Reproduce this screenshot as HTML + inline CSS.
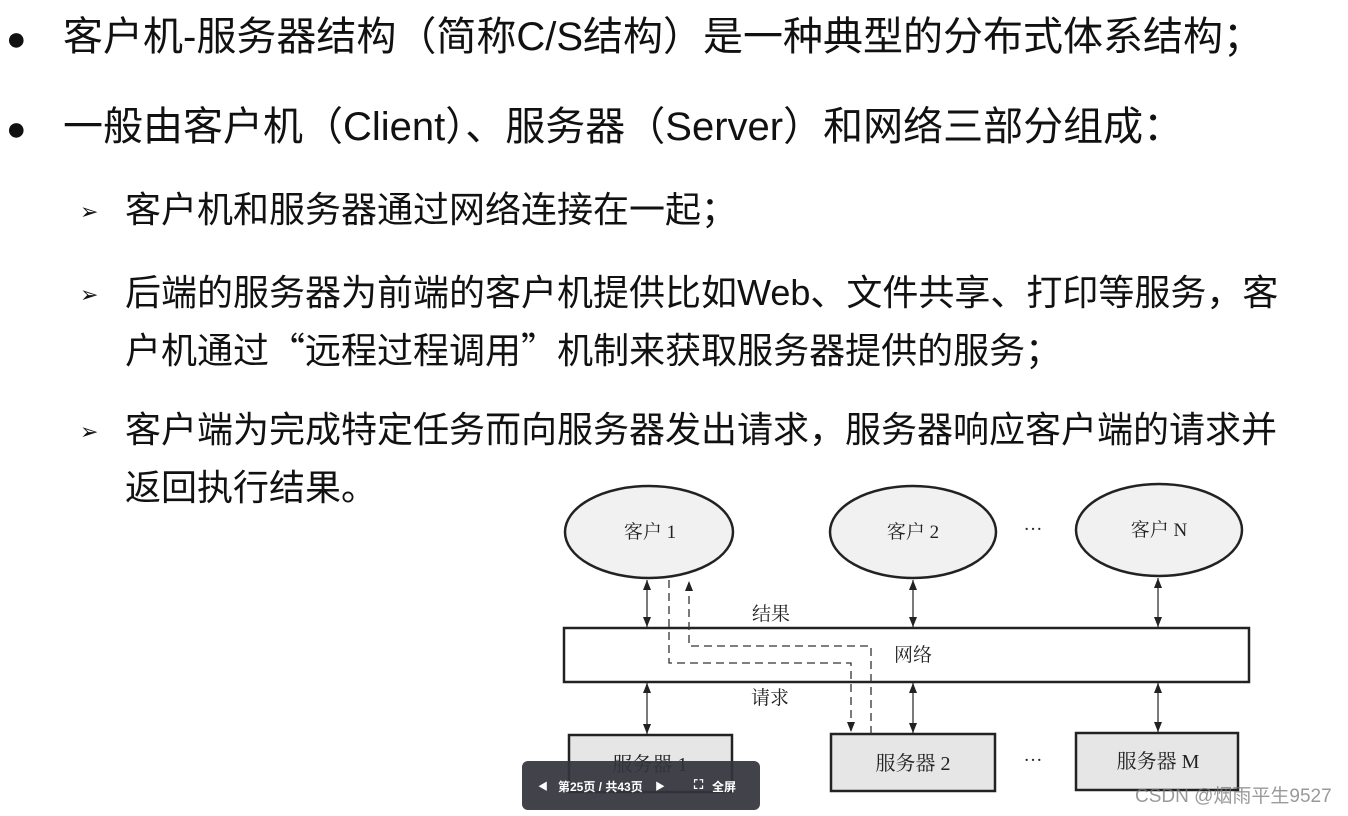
<!DOCTYPE html>
<html><head><meta charset="utf-8"><style>
body{margin:0;width:1348px;height:816px;background:#fff;overflow:hidden;position:relative;font-family:"Liberation Sans","Noto Sans CJK SC",sans-serif;color:#111}
.t{position:absolute;white-space:nowrap;line-height:1}
.m{font-size:40px}
.s{font-size:36px}
.b{position:absolute;font-size:34px;line-height:1}
.a{position:absolute;font-size:22px;line-height:1}
.c{font-family:"Noto Sans CJK SC",sans-serif}
</style></head><body>
<div class="b" style="left:6px;top:22px">●</div>
<div class="t m" style="left:63px;top:17px">客户机-服务器结构（简称C/S结构）是一种典型的分布式体系结构；</div>
<div class="b" style="left:6px;top:112px">●</div>
<div class="t m" style="left:63px;top:107px">一般由客户机（Client）、服务器（Server）和网络三部分组成：</div>
<div class="a" style="left:80px;top:201px">➢</div>
<div class="t s" style="left:125px;top:192px">客户机和服务器通过网络连接在一起；</div>
<div class="a" style="left:80px;top:284px">➢</div>
<div class="t s" style="left:125px;top:275px">后端的服务器为前端的客户机提供比如Web、文件共享、打印等服务，客</div>
<div class="t s" style="left:125px;top:330px">户机通过<span class="c">“</span>远程过程调用<span class="c">”</span>机制来获取服务器提供的服务；</div>
<div class="a" style="left:80px;top:421px">➢</div>
<div class="t s" style="left:125px;top:412px">客户端为完成特定任务而向服务器发出请求，服务器响应客户端的请求并</div>
<div class="t s" style="left:125px;top:470px">返回执行结果。</div>

<svg width="1348" height="816" style="position:absolute;left:0;top:0" font-family="Liberation Serif, Noto Serif CJK SC, serif">
<defs>
<marker id="ar" markerWidth="10" markerHeight="8" refX="10" refY="4" orient="auto-start-reverse" markerUnits="userSpaceOnUse" viewBox="0 0 10 8"><path d="M0,0 L10,4 L0,8 Z" fill="#222"/></marker>
</defs>
<g stroke="#222" stroke-width="2.5" fill="#f1f1f1">
<ellipse cx="649" cy="532" rx="84" ry="46"/>
<ellipse cx="913" cy="532" rx="83" ry="46"/>
<ellipse cx="1159" cy="530" rx="83" ry="46"/>
<rect x="564" y="628" width="685" height="54" fill="#fff"/>
<rect x="569" y="735" width="163" height="57" fill="#e6e6e6"/>
<rect x="831" y="734" width="164" height="57" fill="#e6e6e6"/>
<rect x="1076" y="733" width="162" height="57" fill="#e6e6e6"/>
</g>
<g stroke="#333" stroke-width="1.3" fill="none">
<line x1="647" y1="580" x2="647" y2="627" marker-start="url(#ar)" marker-end="url(#ar)"/>
<line x1="647" y1="683" x2="647" y2="734" marker-start="url(#ar)" marker-end="url(#ar)"/>
<line x1="913" y1="580" x2="913" y2="627" marker-start="url(#ar)" marker-end="url(#ar)"/>
<line x1="913" y1="683" x2="913" y2="733" marker-start="url(#ar)" marker-end="url(#ar)"/>
<line x1="1158" y1="578" x2="1158" y2="627" marker-start="url(#ar)" marker-end="url(#ar)"/>
<line x1="1158" y1="683" x2="1158" y2="732" marker-start="url(#ar)" marker-end="url(#ar)"/>
<polyline points="669,580 669,663 851,663 851,732" stroke-dasharray="8,5" marker-end="url(#ar)"/>
<polyline points="871,734 871,646 689,646 689,581" stroke-dasharray="8,5" marker-end="url(#ar)"/>
</g>
<g font-size="19" fill="#222" text-anchor="middle">
<text x="650" y="538">客户 1</text>
<text x="913" y="538">客户 2</text>
<text x="1159" y="536">客户 N</text>
<text x="771" y="620">结果</text>
<text x="913" y="661">网络</text>
<text x="770" y="704">请求</text>
<text x="650" y="771" font-size="20">服务器 1</text>
<text x="913" y="770" font-size="20">服务器 2</text>
<text x="1158" y="768" font-size="20">服务器 M</text>
<text x="1033" y="535">···</text>
<text x="1033" y="766">···</text>
</g>
</svg>

<div style="position:absolute;left:522px;top:761px;width:238px;height:49px;background:rgba(52,52,60,0.93);border-radius:6px;color:#fff;font-size:12px;font-weight:bold;font-family:'Liberation Sans','Noto Sans CJK SC',sans-serif">
<span style="position:absolute;left:16px;top:17px;font-size:10px">◀</span>
<span style="position:absolute;left:36px;top:17px">第25页 / 共43页</span>
<span style="position:absolute;left:133px;top:17px;font-size:10px">▶</span>
<span style="position:absolute;left:172px;top:16px;font-size:13px">⛶</span>
<span style="position:absolute;left:190px;top:17px">全屏</span>
</div>
<div style="position:absolute;left:1135px;top:787px;font-size:19px;color:rgba(120,120,120,0.75);font-family:'Liberation Sans','Noto Sans CJK SC',sans-serif;line-height:1">CSDN @烟雨平生9527</div>
</body></html>
